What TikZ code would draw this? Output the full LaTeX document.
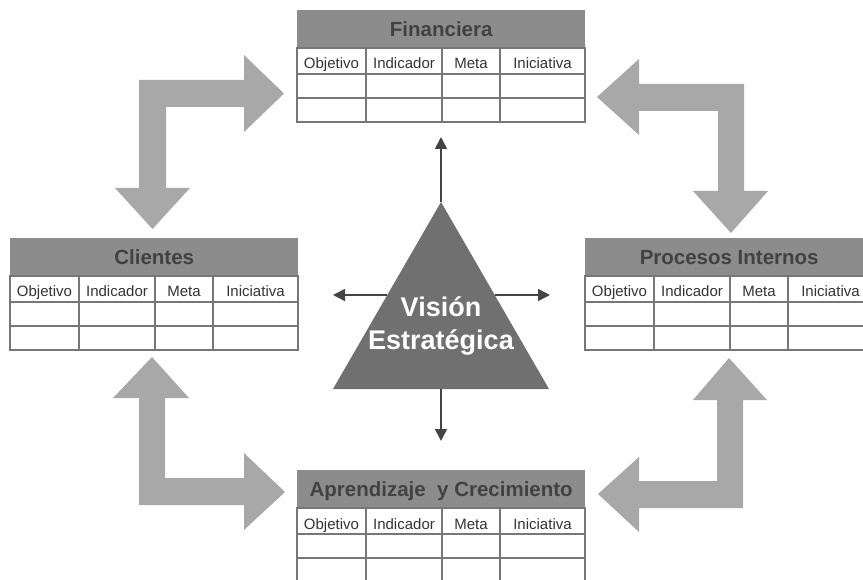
\documentclass[tikz,border=0pt]{standalone}
\usepackage{fontspec}
\setmainfont{Liberation Sans}
\usetikzlibrary{arrows.meta}

\definecolor{hdrgray}{HTML}{8C8C8C}
\definecolor{hdrtext}{HTML}{424242}
\definecolor{celltext}{HTML}{333333}
\definecolor{gridgray}{HTML}{777777}
\definecolor{bigarrowgray}{HTML}{A8A8A8}
\definecolor{trigray}{HTML}{707070}
\definecolor{linkgray}{HTML}{444444}

\tikzset{
  hdrbox/.style={fill=hdrgray, draw=none, minimum width=288pt, minimum height=38pt,
    inner sep=0pt, text height=15pt, text depth=0pt, text=hdrtext,
    font=\fontsize{20.5}{24}\selectfont\bfseries},
  gridline/.style={draw=gridgray, line width=1.3pt},
  cell/.style={inner sep=0pt, anchor=base, text=celltext, font=\fontsize{15}{18}\selectfont},
  bigarrow/.style={fill=bigarrowgray, draw=none},
  tri/.style={fill=trigray, draw=none},
  linkarrow/.style={draw=linkgray, line width=1.6pt,
    -{Triangle[length=12pt,width=12pt]}},
  visiontext/.style={text=white, align=center, inner sep=0pt,
    font=\fontsize{27}{33}\selectfont\bfseries}
}

% One perspective table: header bar plus a 4-column grid with three rows
\newcommand{\bsctable}[4]{%
  \begin{scope}[shift={(#2,#3)}]
    \node[hdrbox, anchor=north west] (#1) at (0,0) {#4};
    \draw[gridline] (0,38) rectangle (288,112);
    \draw[gridline] (0,64) -- (288,64) (0,88) -- (288,88);
    \draw[gridline] (69,38) -- (69,112) (145,38) -- (145,112) (203,38) -- (203,112);
    \node[cell] (#1-c1) at (34.5,59) {Objetivo};
    \node[cell] (#1-c2) at (107,59) {Indicador};
    \node[cell] (#1-c3) at (174,59) {Meta};
    \node[cell] (#1-c4) at (245.5,59) {Iniciativa};
  \end{scope}}

\begin{document}
\begin{tikzpicture}[x=1pt,y=-1pt]
  \useasboundingbox (0,0) rectangle (863,580);
  \clip (0,0) rectangle (863,580);

  % broad L-shaped arrows linking the four perspectives
  \fill[bigarrow] (139,80) -- (244,80) -- (244,55) -- (284,93.5) -- (244,132)
    -- (244,107) -- (166,107) -- (166,188) -- (190,188) -- (152.5,229)
    -- (115,188) -- (139,188) -- cycle;
  \fill[bigarrow] (744,84) -- (639,84) -- (639,59) -- (597,97) -- (639,135)
    -- (639,111) -- (718,111) -- (718,191) -- (693,191) -- (731,233)
    -- (768,191) -- (744,191) -- cycle;
  \fill[bigarrow] (139,505) -- (244,505) -- (244,530) -- (285,492) -- (244,453)
    -- (244,478) -- (165,478) -- (165,398) -- (189,398) -- (152,357)
    -- (113,398) -- (139,398) -- cycle;
  \fill[bigarrow] (743,508) -- (639,508) -- (639,532) -- (598,494) -- (639,457)
    -- (639,481) -- (717,481) -- (717,400) -- (693,400) -- (729,358)
    -- (767,400) -- (743,400) -- cycle;

  % the four perspective tables
  \bsctable{fin}{297}{10}{Financiera}
  \bsctable{cli}{10}{238}{Clientes}
  \bsctable{pro}{585}{238}{Procesos Internos}
  \bsctable{apr}{297}{470}{Aprendizaje\ \ y Crecimiento}

  % central triangle
  \coordinate (apex) at (441,202);
  \coordinate (bl) at (333,389);
  \coordinate (br) at (549,389);
  \fill[tri] (apex) -- (br) -- (bl) -- cycle;
  \node[visiontext] (vision) at (441,326) {Visión\\Estratégica};

  % arrows out of the triangle
  \coordinate (topend) at (441,137);
  \coordinate (leftstart) at (387,295);
  \coordinate (leftend) at (333,295);
  \coordinate (rightstart) at (495,295);
  \coordinate (rightend) at (550,295);
  \coordinate (basemid) at (441,389);
  \coordinate (downend) at (441,441);
  \draw[linkarrow] (apex) -- (topend);
  \draw[linkarrow] (leftstart) -- (leftend);
  \draw[linkarrow] (rightstart) -- (rightend);
  \draw[linkarrow] (basemid) -- (downend);
\end{tikzpicture}
\end{document}
